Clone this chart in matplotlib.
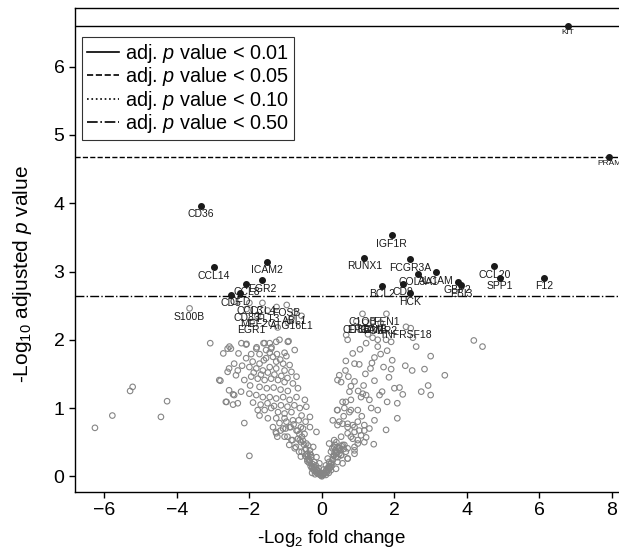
import matplotlib
matplotlib.use("Agg")
import matplotlib.pyplot as plt
from matplotlib.lines import Line2D

plt.rcParams['font.family'] = ['Liberation Sans', 'DejaVu Sans']
plt.rcParams['mathtext.fontset'] = 'custom'
plt.rcParams['mathtext.rm'] = 'Liberation Sans'
plt.rcParams['mathtext.it'] = 'Liberation Sans:italic'

# ---------------- data ----------------
# background (non-labelled) genes: (-log2 FC, -log10 adj p)
bg_points = [
    (-6.26, 0.71), (-5.78, 0.89), (-5.29, 1.25), (-5.22, 1.31), (-4.44, 0.87), (-4.27, 1.10),
    (-3.08, 1.95), (-2.80, 1.40), (-2.63, 1.09), (-2.45, 1.05), (-2.45, 1.20),
    (-2.60, 1.87), (-2.51, 1.87), (-2.72, 1.80), (-2.30, 1.80), (-2.09, 1.93), (-1.81, 1.87),
    (-1.61, 1.95), (-1.44, 1.95), (-1.26, 1.97), (-0.94, 1.97), (-0.75, 1.85), (-1.03, 1.81),
    (-1.24, 1.79), (-1.44, 1.81), (-1.54, 1.85), (-1.72, 1.79), (-1.95, 1.79), (-2.09, 1.73),
    (-1.91, 1.68), (-1.72, 1.65), (-1.54, 1.73), (-1.35, 1.75), (-1.15, 1.71), (-1.07, 1.65),
    (-0.89, 1.63), (-2.42, 1.65), (-2.56, 1.58), (-2.32, 1.55), (-2.00, 1.60), (-1.81, 1.58),
    (-1.63, 1.55), (-1.44, 1.60), (-1.26, 1.58), (-1.03, 1.55), (-0.84, 1.53), (-0.70, 1.46),
    (-2.83, 1.41), (-2.60, 1.53), (-2.37, 1.48), (-2.14, 1.41), (-1.95, 1.46), (-1.77, 1.43),
    (-1.58, 1.41), (-1.40, 1.43), (-1.21, 1.41), (-1.03, 1.38), (-0.80, 1.36), (-0.66, 1.29),
    (-2.56, 1.26), (-2.42, 1.19), (-2.23, 1.24), (-2.00, 1.21), (-1.81, 1.19), (-1.63, 1.16),
    (-1.44, 1.16), (-1.26, 1.14), (-1.07, 1.16), (-0.89, 1.12), (-0.70, 1.16), (-0.47, 1.12),
    (-2.65, 1.09), (-2.32, 1.07), (-1.77, 0.97), (-1.58, 0.97), (-1.40, 1.00), (-1.21, 0.94),
    (-1.03, 0.92), (-0.84, 0.94), (-0.61, 1.00), (-0.43, 1.02), (-1.72, 0.89), (-1.49, 0.85),
    (-1.26, 0.85), (-1.03, 0.85), (-0.80, 0.82), (-0.56, 0.89), (-0.33, 0.87), (-2.14, 0.78),
    (-1.35, 0.72), (-1.07, 0.70), (-0.89, 0.72), (-0.70, 0.67), (-0.52, 0.70), (-0.33, 0.72),
    (-0.15, 0.65), (-1.26, 0.63), (-1.03, 0.58), (-0.84, 0.53), (-0.61, 0.53), (-0.43, 0.48),
    (-0.24, 0.43), (-0.75, 0.41), (-0.56, 0.36), (-0.33, 0.33), (-0.15, 0.28), (-2.00, 0.30),
    (-1.25, 2.48), (-0.56, 2.35), (-1.22, 2.18), (-0.94, 2.26), (-2.55, 1.90), (-2.08, 1.94),
    (-1.80, 1.89), (-1.58, 1.95), (-1.39, 1.89), (-1.17, 2.00), (-0.92, 1.98),
    (-1.27, 0.65), (-1.14, 0.67), (-1.00, 0.70), (-0.86, 0.72), (-0.67, 0.67), (-0.58, 0.72),
    (-1.23, 0.58), (-0.95, 0.58), (-0.81, 0.53), (-0.90, 0.46), (-0.72, 0.43), (-0.58, 0.50),
    (-0.49, 0.46), (-0.63, 0.36), (-0.58, 0.29), (-0.40, 0.33), (-0.30, 0.31), (-0.35, 0.24),
    (-0.21, 0.21), (-0.07, 0.19), (-0.26, 0.14), (-0.12, 0.09), (-0.17, 0.16),
    (-0.62, 0.62), (-0.55, 0.58), (-0.48, 0.62), (-0.66, 0.55), (-0.52, 0.52), (-0.44, 0.40),
    (-0.38, 0.45), (-0.46, 0.30), (-0.40, 0.22), (-0.33, 0.38),
    (-1.88, 1.52), (-1.68, 1.49), (-1.49, 1.52), (-1.31, 1.49), (-1.12, 1.47), (-0.95, 1.44),
    (-1.98, 1.33), (-1.72, 1.31), (-1.52, 1.29), (-1.33, 1.30), (-1.14, 1.27), (-0.94, 1.25),
    (-1.90, 1.08), (-1.69, 1.05), (-1.50, 1.07), (-1.32, 1.03), (-1.13, 1.04), (-0.95, 1.02),
    (-0.76, 1.04), (-1.60, 1.70), (-1.26, 1.68), (-0.98, 1.76), (-2.20, 1.62), (-1.17, 0.78),
    (-0.98, 0.80), (-0.78, 0.76), (-0.64, 0.82), (-0.45, 0.80), (-1.40, 1.87), (-2.22, 1.95),
    # V bottom
    (-0.45, 0.40), (-0.42, 0.32), (-0.40, 0.25), (-0.38, 0.30), (-0.36, 0.20), (-0.33, 0.22),
    (-0.31, 0.15), (-0.30, 0.28), (-0.28, 0.12), (-0.26, 0.18), (-0.24, 0.10), (-0.22, 0.14),
    (-0.20, 0.08), (-0.18, 0.11), (-0.16, 0.06), (-0.14, 0.09), (-0.12, 0.04), (-0.10, 0.07),
    (-0.08, 0.03), (-0.06, 0.05), (-0.04, 0.02), (-0.02, 0.01), (0.00, 0.00), (0.02, 0.02),
    (0.04, 0.03), (0.06, 0.05), (0.08, 0.04), (0.10, 0.07), (0.12, 0.09), (0.14, 0.06),
    (0.16, 0.12), (0.18, 0.10), (0.20, 0.15), (0.22, 0.12), (0.24, 0.18), (0.26, 0.20),
    (0.28, 0.16), (0.30, 0.25), (0.32, 0.30), (0.35, 0.35), (0.38, 0.28), (-0.27, 0.05),
    (-0.19, 0.03), (-0.09, 0.12), (0.05, 0.10), (0.11, 0.02), (0.19, 0.05), (0.25, 0.09),
    # right arm
    (0.67, 2.07), (0.71, 2.00), (1.22, 1.95), (1.40, 2.03), (1.54, 2.00), (1.77, 2.00),
    (1.91, 1.97), (2.45, 2.17), (2.51, 2.03), (1.54, 1.90), (1.80, 1.84), (1.62, 1.79),
    (1.45, 1.74), (1.38, 1.66), (1.34, 1.58), (1.94, 1.70), (1.91, 1.57), (3.00, 1.76),
    (4.19, 1.99), (4.43, 1.90), (0.66, 1.69), (0.90, 1.65), (1.03, 1.64), (2.49, 1.55),
    (2.83, 1.57), (3.39, 1.48), (0.48, 1.48), (0.43, 1.41), (0.53, 1.38), (0.73, 1.46),
    (0.90, 1.39), (1.15, 1.33), (1.13, 1.21), (1.08, 1.16), (1.22, 1.19), (1.31, 1.12),
    (0.80, 1.32), (0.76, 1.24), (0.80, 1.12), (0.66, 1.09), (0.57, 1.09), (1.59, 1.19),
    (1.80, 1.09), (2.08, 1.07), (2.00, 1.29), (2.14, 1.30), (2.23, 1.20), (2.74, 1.24),
    (2.93, 1.33), (3.00, 1.19), (0.42, 0.97), (0.62, 1.00), (0.80, 0.97), (0.99, 0.97),
    (1.36, 1.00), (1.54, 0.97), (1.45, 0.82), (2.08, 0.85), (1.77, 0.68), (1.43, 0.47),
    (0.30, 0.82), (0.43, 0.75), (0.57, 0.77), (0.71, 0.72), (0.85, 0.75), (0.99, 0.80),
    (1.17, 0.75), (1.31, 0.70), (0.90, 0.65), (1.08, 0.60), (1.22, 0.57), (0.80, 0.58),
    (0.99, 0.53), (0.90, 0.43), (0.90, 0.33), (0.71, 0.26), (0.20, 0.48), (0.34, 0.43),
    (0.48, 0.41), (0.62, 0.46), (0.25, 0.36), (0.39, 0.33), (0.53, 0.31), (0.66, 0.36),
    (0.16, 0.26), (0.30, 0.24), (0.43, 0.21), (0.57, 0.19), (0.11, 0.16), (0.25, 0.14),
    (0.39, 0.11), (0.43, 0.97), (0.76, 0.94), (0.48, 0.80), (0.71, 0.77), (0.90, 0.72),
    (1.03, 0.67), (1.17, 0.67), (0.34, 0.53), (0.53, 0.58), (0.71, 0.63), (0.85, 0.55),
    (0.99, 0.48), (1.17, 0.50), (0.29, 0.41), (0.43, 0.43), (0.57, 0.46), (0.71, 0.41),
    (0.90, 0.38), (0.53, 0.31), (0.71, 0.26), (0.34, 0.31), (0.20, 0.21),
    (0.38, 0.38), (0.42, 0.35), (0.46, 0.42), (0.36, 0.46), (0.44, 0.28), (0.50, 0.38),
    (0.55, 0.44), (0.60, 0.40), (0.40, 0.50), (0.48, 0.33), (1.66, 1.24), (1.27, 2.08),
    (1.05, 1.86), (0.85, 1.80), (1.70, 1.60), (1.20, 1.50), (1.00, 1.25), (1.45, 1.40),
    (0.60, 0.88), (1.10, 0.88), (0.65, 1.55), (1.85, 1.45), (2.30, 1.62), (2.60, 1.90),
]

# labelled genes above the adj. p < 0.50 line (filled)
sig_genes = ['KIT', 'PRAM', 'CD36', 'CCL14', 'ICAM2', 'EGR2', 'CCL8', 'CFD', 'CD5',
             'IGF1R', 'RUNX1', 'FCGR3A', 'COL3A1', 'ALCAM', 'CD9', 'BCL2', 'HCK',
             'GBP2', 'EBI3', 'CCL20', 'SPP1', 'F12']
sig_fc = [6.78, 7.92, -3.34, -2.98, -1.52, -1.64, -2.08, -2.25, -2.50,
          1.93, 1.17, 2.43, 2.65, 3.14, 2.23, 1.65, 2.42,
          3.75, 3.85, 4.76, 4.92, 6.12]
sig_p = [6.60, 4.68, 3.96, 3.06, 3.14, 2.87, 2.82, 2.68, 2.66,
         3.53, 3.20, 3.18, 2.97, 2.99, 2.82, 2.79, 2.68,
         2.85, 2.80, 3.08, 2.91, 2.91]

# labelled genes below the line (open)
lab_genes = ['S100B', 'CCL3', 'CCL4', 'FOSB', 'CD83', 'FLT3', 'ABL1', 'MEF2C',
             'ATG16L1', 'EGR1', 'C1QB', 'FEN1', 'CD8B', 'EPCAM', 'GZMB', 'FCER2', 'TNFRSF18']
lab_fc = [-3.65, -2.00, -1.64, -0.97, -2.08, -1.50, -0.75, -1.78,
          -0.83, -1.94, 1.12, 1.78, 0.95, 1.20, 1.40, 1.62, 2.32]
lab_p = [2.46, 2.54, 2.54, 2.51, 2.45, 2.43, 2.40, 2.35,
         2.32, 2.26, 2.38, 2.38, 2.27, 2.26, 2.27, 2.25, 2.19]

# thresholds
thresholds = [6.60, 4.68, 2.64]
legend_labels = ['adj. $p$ value < 0.01', 'adj. $p$ value < 0.05',
                 'adj. $p$ value < 0.10', 'adj. $p$ value < 0.50']
line_styles = ['-', '--', ':', '-.']

x_ticks = [-6, -4, -2, 0, 2, 4, 6, 8]
y_ticks = [0, 1, 2, 3, 4, 5, 6]

# ---------------- plot ----------------
W, H = 619, 551
fig = plt.figure(figsize=(W / 100, H / 100), dpi=100)
ax = fig.add_axes([75 / W, 59 / H, 546 / W, 484 / H])

bx = [p[0] for p in bg_points]
by = [p[1] for p in bg_points]
gray = '#858585'
ax.scatter(bx, by, s=16, facecolors='none', edgecolors=gray, linewidths=0.8, zorder=2)
ax.scatter(lab_fc, lab_p, s=16, facecolors='none', edgecolors=gray, linewidths=0.8, zorder=2)
ax.scatter(sig_fc, sig_p, s=16, color='#1a1a1a', zorder=3)

small = {'KIT', 'PRAM'}
for g, x, y in list(zip(sig_genes, sig_fc, sig_p)) + list(zip(lab_genes, lab_fc, lab_p)):
    ax.annotate(g, (x, y), xytext=(0, -2.5), textcoords='offset points',
                ha='center', va='top', fontsize=6 if g in small else 7.5,
                color='#1a1a1a', zorder=4)

for t, ls in zip(thresholds, ['-', '--', '-.']):
    ax.axhline(t, color='black', lw=1.0, ls=ls, zorder=1)

handles = [Line2D([], [], color='black', lw=1.2, ls=ls) for ls in line_styles]
leg = ax.legend(handles, legend_labels, loc='upper left', bbox_to_anchor=(0.013, 0.94),
                borderaxespad=0, fontsize=14.3, frameon=True, fancybox=False,
                edgecolor='black', handlelength=1.6, handletextpad=0.3,
                labelspacing=0.02, borderpad=0.25)
leg.get_frame().set_linewidth(0.8)

ax.set_xlim(-6.81, 8.25)
ax.set_ylim(-0.23, 6.86)
ax.set_xticks(x_ticks)
ax.set_yticks(y_ticks)
ax.tick_params(labelsize=14, length=4, width=1, direction='out')
ax.spines['right'].set_visible(False)
for s in ['left', 'bottom', 'top']:
    ax.spines[s].set_linewidth(1.0)

ax.set_xlabel('-Log$_2$ fold change', fontsize=13.5)
ax.set_ylabel('-Log$_{10}$ adjusted $p$ value', fontsize=15)
ax.xaxis.set_label_coords(0.47, -0.075)
ax.yaxis.set_label_coords(-0.075, 0.45)

fig.savefig('out.png', dpi=100)
